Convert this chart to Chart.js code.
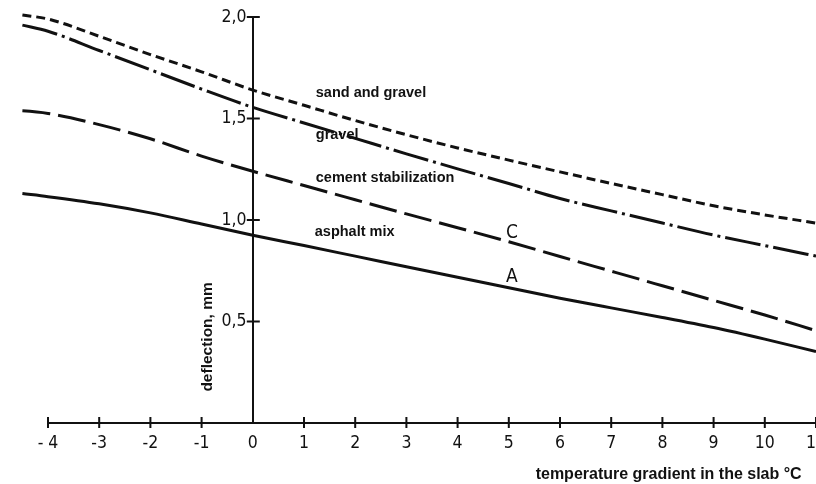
<!DOCTYPE html>
<html>
<head>
<meta charset="utf-8">
<script src="https://cdn.jsdelivr.net/npm/chart.js@4/dist/chart.umd.min.js"></script>
<style>
  html, body { margin: 0; padding: 0; background: #fff; }
  canvas { display: block; }
</style>
</head>
<body>
<canvas id="chart" width="816" height="484"></canvas>
<script>
// Temperature gradient in the slab (°C)
const gradientX = [-4.75, -4.5, -4, -3, -2, -1, 0, 1, 2, 3, 4, 5, 6, 7, 8, 9, 10, 11];

// Slab deflection (mm) for each base type
const sandGravel = [null, 2.01, 1.99, 1.905, 1.815, 1.73, 1.64, 1.565, 1.49, 1.42, 1.355, 1.295, 1.237, 1.18, 1.125, 1.07, 1.025, 0.985];
const gravel     = [null, 1.96, 1.93, 1.835, 1.74, 1.645, 1.555, 1.478, 1.402, 1.326, 1.252, 1.18, 1.106, 1.045, 0.985, 0.926, 0.874, 0.822];
const cementStab = [1.54, 1.538, 1.525, 1.47, 1.40, 1.315, 1.24, 1.17, 1.10, 1.03, 0.962, 0.893, 0.82, 0.748, 0.676, 0.604, 0.532, 0.455];
const asphaltMix = [null, 1.13, 1.115, 1.08, 1.035, 0.98, 0.925, 0.874, 0.822, 0.77, 0.718, 0.666, 0.615, 0.567, 0.52, 0.47, 0.413, 0.352];

const seriesNames = ['sand and gravel', 'gravel', 'cement stabilization', 'asphalt mix'];

// Axis tick values and their printed labels
const xTickValues = [-4, -3, -2, -1, 0, 1, 2, 3, 4, 5, 6, 7, 8, 9, 10, 11];
const xTickLabels = ['- 4', '-3', '-2', '-1', '0', '1', '2', '3', '4', '5', '6', '7', '8', '9', '10', '11'];
const yTickValues = [0, 0.5, 1.0, 1.5, 2.0];
const yTickLabels = ['', '0,5', '1,0', '1,5', '2,0'];

const xTitle = 'temperature gradient in the slab °C';
const yTitle = 'deflection, mm';

const ink = '#111';
const tickFamily = '"Liberation Sans Narrow", "DejaVu Sans Condensed", sans-serif';
const labelFamily = '"Liberation Sans", Arial, sans-serif';

const toPoints = (ys) => gradientX.map((x, i) => ({ x, y: ys[i] }));

function lineStyle(dash) {
  return {
    borderColor: ink,
    borderWidth: 3,
    borderDash: dash,
    borderCapStyle: 'butt',
    pointRadius: 0,
    pointHoverRadius: 0,
    cubicInterpolationMode: 'monotone',
    fill: false,
    spanGaps: false,
    clip: false
  };
}

// Tick marks crossing both axes, curve names, curve letters and axis titles
const annotate = {
  id: 'annotate',
  afterDraw(chart) {
    const { ctx, scales: { x, y } } = chart;
    const axisX = x.getPixelForValue(0);   // vertical axis position
    const axisY = y.getPixelForValue(0);   // horizontal axis position
    ctx.save();
    ctx.strokeStyle = ink;
    ctx.lineWidth = 2;
    ctx.beginPath();
    xTickValues.forEach(v => {
      if (v === 0) return;
      const px = x.getPixelForValue(v);
      ctx.moveTo(px, axisY - 6);
      ctx.lineTo(px, axisY + 5);
    });
    yTickValues.forEach(v => {
      if (v === 0) return;
      const py = y.getPixelForValue(v);
      ctx.moveTo(axisX - 6, py);
      ctx.lineTo(axisX + 7, py);
    });
    ctx.stroke();

    // curve names
    ctx.fillStyle = ink;
    ctx.textBaseline = 'middle';
    ctx.textAlign = 'left';
    ctx.font = 'bold 14.5px ' + labelFamily;
    const nameAt = [[1.23, 1.625], [1.23, 1.42], [1.23, 1.205], [1.21, 0.94]];
    seriesNames.forEach((name, i) => {
      ctx.fillText(name, x.getPixelForValue(nameAt[i][0]), y.getPixelForValue(nameAt[i][1]));
    });

    // curve letters
    ctx.textAlign = 'center';
    ctx.font = '19px ' + tickFamily;
    ctx.fillText('C', x.getPixelForValue(5.06), y.getPixelForValue(0.936));
    ctx.fillText('A', x.getPixelForValue(5.06), y.getPixelForValue(0.719));

    // horizontal axis title, ending near the right edge below the tick labels
    ctx.textAlign = 'right';
    ctx.font = 'bold 16px ' + labelFamily;
    ctx.fillText(xTitle, x.getPixelForValue(10.72), axisY + 52);

    // vertical axis title
    ctx.textAlign = 'center';
    ctx.font = 'bold 15.5px ' + labelFamily;
    ctx.translate(x.getPixelForValue(-0.875), y.getPixelForValue(0.424));
    ctx.rotate(-Math.PI / 2);
    ctx.fillText(yTitle, 0, 0);
    ctx.restore();
  }
};

new Chart(document.getElementById('chart'), {
  type: 'line',
  data: {
    datasets: [
      { label: seriesNames[0], data: toPoints(sandGravel), ...lineStyle([9, 5]) },
      { label: seriesNames[1], data: toPoints(gravel), ...lineStyle([36, 5, 3, 5]) },
      { label: seriesNames[2], data: toPoints(cementStab), ...lineStyle([28, 8]) },
      { label: seriesNames[3], data: toPoints(asphaltMix), ...lineStyle([]) }
    ]
  },
  options: {
    responsive: false,
    devicePixelRatio: 1,
    animation: false,
    events: [],
    layout: { padding: { left: 48, right: 0, top: 17, bottom: 61 } },
    plugins: { legend: { display: false }, tooltip: { enabled: false } },
    scales: {
      x: {
        type: 'linear',
        min: -4,
        max: 11,
        position: { y: 0 },
        afterBuildTicks(scale) { scale.ticks = xTickValues.map(v => ({ value: v })); },
        afterFit(scale) { scale.paddingLeft = 0; scale.paddingRight = 0; },
        grid: { display: false, drawTicks: false },
        border: { display: true, color: ink, width: 2 },
        ticks: {
          padding: 10,
          color: ink,
          maxRotation: 0,
          autoSkip: false,
          font: { family: tickFamily, size: 17.5 },
          callback: (v) => xTickLabels[xTickValues.indexOf(v)]
        }
      },
      y: {
        type: 'linear',
        min: 0,
        max: 2,
        position: { x: 0 },
        afterBuildTicks(scale) { scale.ticks = yTickValues.map(v => ({ value: v })); },
        afterFit(scale) { scale.paddingTop = 0; scale.paddingBottom = 0; },
        grid: { display: false, drawTicks: false },
        border: { display: true, color: ink, width: 2 },
        ticks: {
          color: ink,
          font: { family: tickFamily, size: 17.5 },
          // thin spaces keep the label clear of the tick mark
          callback: (v) => {
            const t = yTickLabels[yTickValues.indexOf(v)];
            return t ? t + '\u2009\u2009' : '';
          }
        }
      }
    }
  },
  plugins: [annotate]
});
</script>
</body>
</html>
